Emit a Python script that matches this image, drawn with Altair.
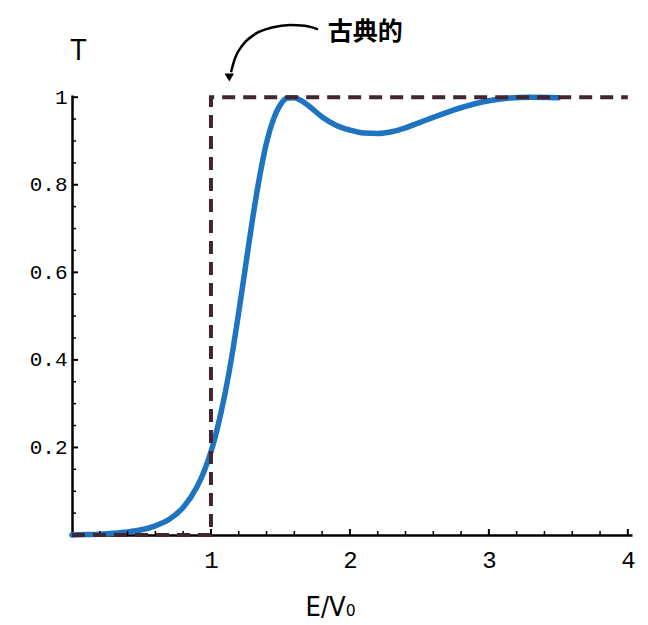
import altair as alt
import pandas as pd

# Quantum transmission curve
energy = [0, 0.1, 0.2, 0.3, 0.4, 0.5, 0.6, 0.7, 0.8, 0.9, 0.95, 1.0, 1.05, 1.1,
          1.15, 1.2, 1.25, 1.3, 1.35, 1.4, 1.45, 1.5, 1.55, 1.6, 1.65, 1.7, 1.8,
          1.9, 2.0, 2.1, 2.2, 2.3, 2.4, 2.5, 2.6, 2.75, 2.9, 3.0, 3.15, 3.3, 3.5]
transmission = [0, 0.001, 0.002, 0.004, 0.007, 0.012, 0.021, 0.036, 0.063, 0.11,
                0.145, 0.19, 0.249, 0.321, 0.408, 0.509, 0.616, 0.723, 0.818,
                0.896, 0.95, 0.983, 0.998, 0.999, 0.992, 0.981, 0.955, 0.936,
                0.925, 0.918, 0.917, 0.921, 0.93, 0.942, 0.954, 0.971, 0.985,
                0.992, 0.998, 1.0, 0.999]

# Classical step (dashed)
classical_e = [0, 1, 1, 4]
classical_t = [0, 0, 1, 1]

# Axis ticks
x_major = [1, 2, 3, 4]
x_minor = [0.2, 0.4, 0.6, 0.8, 1.2, 1.4, 1.6, 1.8, 2.2, 2.4, 2.6, 2.8,
           3.2, 3.4, 3.6, 3.8]
y_major = [0.2, 0.4, 0.6, 0.8, 1.0]
y_minor = [0.05, 0.1, 0.15, 0.25, 0.3, 0.35, 0.45, 0.5, 0.55, 0.65, 0.7, 0.75,
           0.85, 0.9, 0.95]

# Annotation
label_text = ["古典的"]
label_e = [1.84]
label_t = [1.148]
arrow_e = [1.770, 1.676, 1.568, 1.439, 1.317, 1.230, 1.173, 1.144]
arrow_t = [1.155, 1.163, 1.165, 1.159, 1.144, 1.120, 1.089, 1.057]
head_e = [1.132]
head_t = [1.045]

W, H = 560, 440
xs = alt.Scale(domain=[0, 4.03], nice=False, zero=False)
ys = alt.Scale(domain=[0, 1.005], nice=False, zero=False)

curve_df = pd.DataFrame({"E": energy, "T": transmission})
classical_df = pd.DataFrame({"E": classical_e, "T": classical_t, "o": list(range(4))})
arrow_df = pd.DataFrame({"E": arrow_e, "T": arrow_t, "o": list(range(len(arrow_e)))})
head_df = pd.DataFrame({"E": head_e, "T": head_t})
text_df = pd.DataFrame({"E": label_e, "T": label_t, "txt": label_text})

x_axis = alt.Axis(values=x_major, ticks=False, grid=False, domain=True,
                  domainColor="black", domainWidth=2.5,
                  labelFont="Liberation Mono", labelFontSize=24, labelColor="black",
                  labelPadding=13, labelFlush=False,
                  title="E/V₀", titleFont="DejaVu Sans Condensed, DejaVu Sans",
                  titleFontSize=27, titleFontWeight="normal", titleColor="black",
                  titleX=258, titleY=72, titleBaseline="middle", titleAlign="center")
y_axis = alt.Axis(values=y_major, ticks=False, grid=False, domain=True,
                  domainColor="black", domainWidth=2.5,
                  labelExpr="datum.value == 1 ? '1' : format(datum.value, '.1f')",
                  labelFont="Liberation Mono", labelFontSize=21, labelColor="black",
                  labelPadding=5, labelFlush=False, labelBaseline="middle",
                  title="T", titleFont="DejaVu Sans Condensed, DejaVu Sans",
                  titleFontSize=28, titleFontWeight="normal", titleColor="black",
                  titleAngle=0, titleX=6, titleY=-44, titleAlign="center",
                  titleBaseline="middle")

X = alt.X("E:Q", scale=xs, axis=x_axis)
Y = alt.Y("T:Q", scale=ys, axis=y_axis)

curve = alt.Chart(curve_df).mark_line(
    color="#1f74c2", strokeWidth=5.5, interpolate="monotone", strokeCap="round"
).encode(x=X, y=Y)

classical = alt.Chart(classical_df).mark_line(
    color="#42252f", strokeWidth=4, strokeDash=[13, 8]
).encode(x=X, y=Y, order="o:O")

ytick_major = alt.Chart(pd.DataFrame({"T": y_major})).mark_rule(
    color="black", strokeWidth=2
).encode(y=Y, x=alt.value(0), x2=alt.value(6))
ytick_minor = alt.Chart(pd.DataFrame({"T": y_minor})).mark_rule(
    color="black", strokeWidth=1.5
).encode(y=Y, x=alt.value(0), x2=alt.value(4))
xtick_major = alt.Chart(pd.DataFrame({"E": x_major})).mark_rule(
    color="black", strokeWidth=2
).encode(x=X, y=alt.value(H), y2=alt.value(H - 6))
xtick_minor = alt.Chart(pd.DataFrame({"E": x_minor})).mark_rule(
    color="black", strokeWidth=1.5
).encode(x=X, y=alt.value(H), y2=alt.value(H - 4))

arrow = alt.Chart(arrow_df).mark_line(
    color="black", strokeWidth=2.5, clip=False, interpolate="monotone"
).encode(x=X, y=Y, order="o:O")
head = alt.Chart(head_df).mark_point(
    shape="triangle-down", filled=True, color="black", size=90, opacity=1, clip=False
).encode(x=X, y=Y)
label = alt.Chart(text_df).mark_text(
    font="Noto Sans CJK SC", fontSize=25, fontWeight="bold", color="black",
    align="left", baseline="middle", clip=False
).encode(x=X, y=Y, text="txt:N")

chart = alt.layer(
    curve, ytick_minor, ytick_major, xtick_minor, xtick_major,
    classical, arrow, head, label
).properties(
    width=W, height=H,
    autosize=alt.AutoSizeParams(type="none"),
    padding={"left": 64, "top": 87, "right": 8, "bottom": 90},
    background="white",
).configure_view(stroke=None)

chart.save("out.html", embed_options={"renderer": "svg", "actions": False})
